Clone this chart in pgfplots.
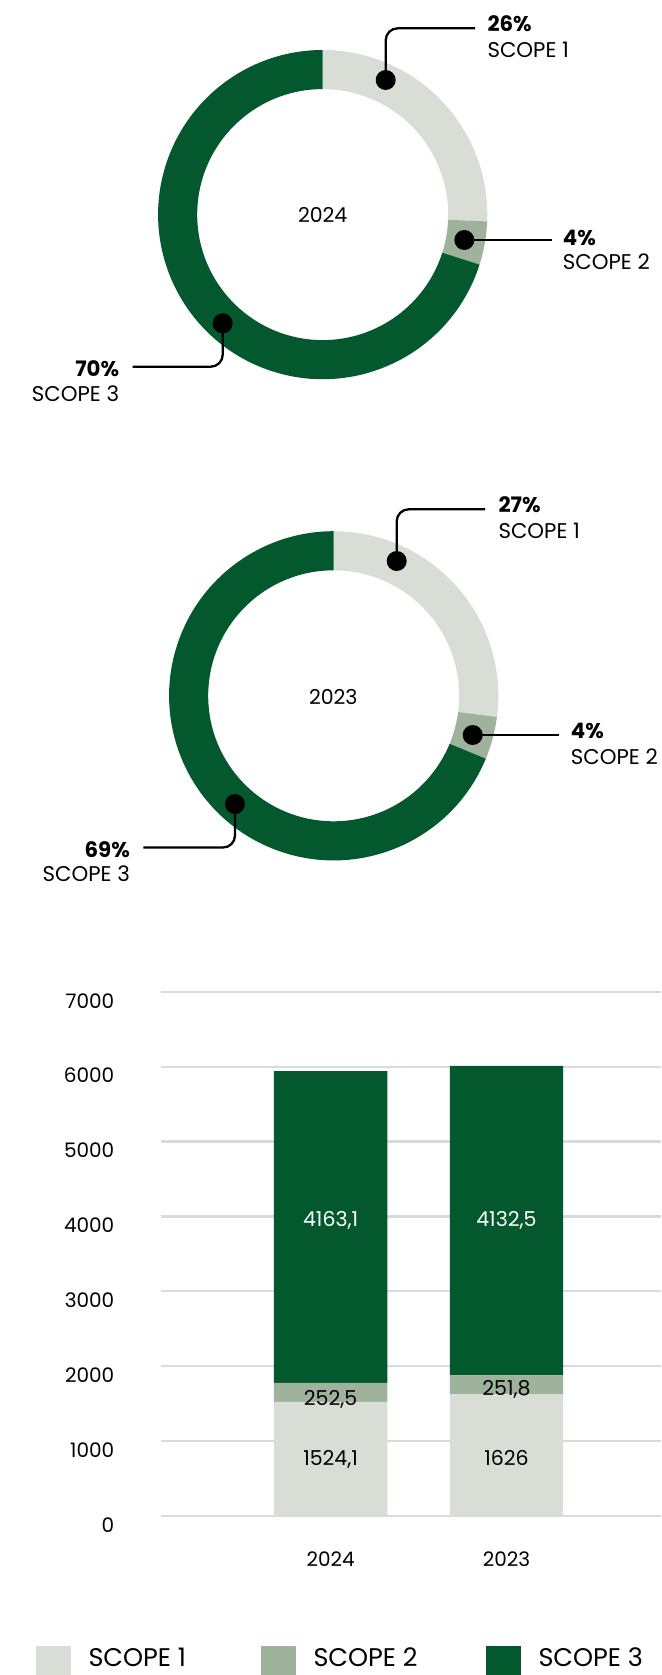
\documentclass[border=0pt]{standalone}
\usepackage{pgfplots}
\pgfplotsset{compat=1.18}
\usepackage{fontspec}
\setmainfont{Poppins}
\definecolor{sone}{HTML}{D8DED6}
\definecolor{stwo}{HTML}{9EB29C}
\definecolor{sthree}{HTML}{03582E}
\definecolor{gridc}{HTML}{DADADA}
\newcommand{\fs}{\fontsize{20.5}{24}\selectfont}
\newcommand{\ft}{\fontsize{20}{24}\selectfont}
\newcommand{\fc}{\fontsize{21.3}{24}\selectfont}
\newcommand{\fl}{\fontsize{25.5}{28}\selectfont}
% data (t CO2e)
\def\aOne{1524.1}\def\aTwo{252.5}\def\aThree{4163.1}
\def\bOne{1626}\def\bTwo{251.8}\def\bThree{4132.5}
\pgfmathsetmacro{\aT}{\aOne+\aTwo+\aThree}
\pgfmathsetmacro{\aE}{90-360*(\aOne/\aT)}
\pgfmathsetmacro{\aF}{\aE-360*(\aTwo/\aT)}
\pgfmathsetmacro{\bT}{\bOne+\bTwo+\bThree}
\pgfmathsetmacro{\bE}{90-360*(\bOne/\bT)}
\pgfmathsetmacro{\bF}{\bE-360*(\bTwo/\bT)}
\newcommand{\seg}[3]{%
  \fill[#1] (axis cs:0,0) ++(#2:164.6pt) arc[start angle=#2, end angle=#3, radius=164.6pt]
    -- ++(#3:-39.1pt) arc[start angle=#3, end angle=#2, radius=125.5pt] -- cycle;}
\begin{document}
\begin{tikzpicture}[x=1pt,y=1pt]
\path[use as bounding box] (0,0) rectangle (661,-1675);
% ---- donut 2024
\begin{axis}[at={(322.7pt,-214.6pt)}, anchor=center, x=1pt, y=1pt,
  xmin=-170, xmax=170, ymin=-170, ymax=170, hide axis, clip=false]
\seg{sone}{90}{\aE}
\seg{stwo}{\aE}{\aF}
\seg{sthree}{\aF}{-270}
\end{axis}
% ---- donut 2023
\begin{axis}[at={(333.7pt,-695.8pt)}, anchor=center, x=1pt, y=1pt,
  xmin=-170, xmax=170, ymin=-170, ymax=170, hide axis, clip=false]
\seg{sone}{90}{\bE}
\seg{stwo}{\bE}{\bF}
\seg{sthree}{\bF}{-270}
\end{axis}
% ---- callouts
\begin{scope}[line width=2.3pt, rounded corners=12pt]
\draw (385.7,-80) -- (385.7,-28.3) -- (475,-28.3);
\draw (464.3,-240) -- (551.7,-240);
\draw (222.7,-323.3) -- (222.7,-366.7) -- (132.7,-366.7);
\draw (396.7,-561) -- (396.7,-509.3) -- (485,-509.3);
\draw (472.7,-735) -- (559.3,-735);
\draw (235,-804) -- (235,-847.5) -- (143.3,-847.5);
\end{scope}
\fill (385.7,-80) circle (10);
\fill (464.3,-240) circle (10);
\fill (222.7,-323.3) circle (10);
\fill (396.7,-561) circle (10);
\fill (472.7,-735) circle (10);
\fill (235,-804) circle (10);
\begin{scope}[every node/.style={inner sep=0pt}]
\node[anchor=base, font=\fs] at (322.7,-222.7) {2024};
\node[anchor=base west, font=\fc\bfseries] at (487.3,-31.7) {26\%};
\node[anchor=base west, font=\fc] at (487.3,-57.3) {SCOPE 1};
\node[anchor=base west, font=\fc\bfseries] at (562.7,-245) {4\%};
\node[anchor=base west, font=\fc] at (562.7,-269) {SCOPE 2};
\node[anchor=base east, font=\fc\bfseries] at (119.3,-376) {70\%};
\node[anchor=base east, font=\fc] at (119.3,-401.7) {SCOPE 3};
\node[anchor=base, font=\fs] at (333.3,-704) {2023};
\node[anchor=base west, font=\fc\bfseries] at (498.3,-512.3) {27\%};
\node[anchor=base west, font=\fc] at (498.3,-538.3) {SCOPE 1};
\node[anchor=base west, font=\fc\bfseries] at (570.7,-738.3) {4\%};
\node[anchor=base west, font=\fc] at (570.7,-764) {SCOPE 2};
\node[anchor=base east, font=\fc\bfseries] at (130,-857.3) {69\%};
\node[anchor=base east, font=\fc] at (130,-881.7) {SCOPE 3};
\end{scope}
% ---- stacked bars
\begin{axis}[at={(160.5pt,-1516pt)}, anchor=south west, scale only axis,
  width=500.5pt, height=524.3pt,
  xmin=-0.9676, xmax=1.879, ymin=0, ymax=7000,
  ybar stacked, bar width=113.3pt,
  axis line style={draw=none}, major tick length=0pt,
  ymajorgrids, grid style={gridc, line width=2.2pt},
  ytick={0,1000,...,7000}, xtick={0,1}, xticklabels={2024,2023},
  /pgf/number format/assume math mode=true,
  /pgf/number format/1000 sep={},
  scaled y ticks=false,
  tick label style={font=\ft, text=black},
  yticklabel style={anchor=east, inner sep=0pt, xshift=-46pt, yshift=-9pt},
  xticklabel style={anchor=base, inner sep=0pt, yshift=-50.7pt},
  clip=false]
\addplot[fill=sone, draw=none] coordinates {(0,1524.1) (1,1626)};
\addplot[fill=stwo, draw=none] coordinates {(0,252.5) (1,251.8)};
\addplot[fill=sthree, draw=none] coordinates {(0,4163.1) (1,4132.5)};
\coordinate (La) at (axis cs:0,3864);
\coordinate (Lb) at (axis cs:1,3864);
\coordinate (Lc) at (axis cs:0,1474);
\coordinate (Ld) at (axis cs:1,1607);
\coordinate (Le) at (axis cs:0,673);
\coordinate (Lf) at (axis cs:1,673);
\end{axis}
\begin{scope}[every node/.style={anchor=base, inner sep=0pt, font=\fs}]
\node[text=white] at (La) {4163,1};
\node[text=white] at (Lb) {4132,5};
\node at (Lc) {252,5};
\node at (Ld) {251,8};
\node at (Le) {1524,1};
\node at (Lf) {1626};
\end{scope}
% ---- legend
\fill[sone] (35.7,-1646) rectangle (70.7,-1675);
\fill[stwo] (260.5,-1646) rectangle (295.5,-1675);
\fill[sthree] (486,-1646) rectangle (520.7,-1675);
\node[anchor=base west, inner sep=0pt, font=\fl] at (88.3,-1666.7) {SCOPE 1};
\node[anchor=base west, inner sep=0pt, font=\fl] at (313.3,-1666.7) {SCOPE 2};
\node[anchor=base west, inner sep=0pt, font=\fl] at (538.3,-1666.7) {SCOPE 3};
\end{tikzpicture}
\end{document}
